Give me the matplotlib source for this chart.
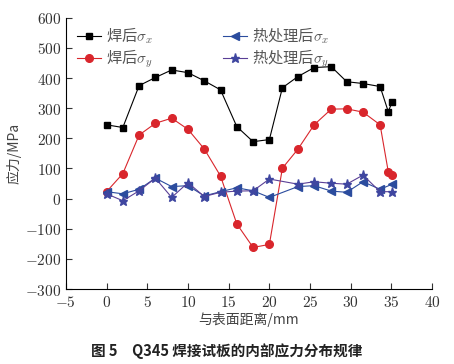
import numpy as np
import matplotlib.pyplot as plt
from matplotlib.ticker import FuncFormatter

plt.rcParams['font.family'] = ['Noto Sans CJK SC', 'DejaVu Sans']
plt.rcParams['mathtext.fontset'] = 'cm'

# 焊后 (as welded)
x_w = [0, 2, 4, 6, 8, 10, 12, 14, 16, 18, 20, 21.6, 23.5, 25.5, 27.6, 29.5, 31.5, 33.6, 34.6, 35.1]
sx_w = [245, 236, 375, 402, 427, 418, 391, 361, 239, 189, 196, 368, 405, 435, 438, 388, 382, 372, 289, 322]
sy_w = [23, 83, 211, 250, 267, 230, 165, 75, -84, -162, -152, 101, 164, 245, 297, 298, 287, 245, 90, 80]

# 热处理后 (after heat treatment)
x_h = [0, 2, 4, 6, 8, 10, 12, 14, 16, 18, 20, 23.5, 25.5, 27.6, 29.5, 31.5, 33.6, 35.1]
sx_h = [23, 16, 31, 68, 40, 43, 9, 23, 36, 26, 4, 40, 43, 25, 21, 56, 31, 48]
sy_h = [16, -7, 26, 68, 4, 53, 7, 21, 25, 26, 65, 48, 56, 51, 48, 78, 23, 23]

fig = plt.figure(figsize=(4.54, 3.64), dpi=100)
ax = fig.add_axes([0.145, 0.206, 0.807, 0.745])

ax.plot(x_w, sx_w, color='black', lw=0.8, marker='s', ms=5, label=r'焊后$\sigma_x$')
ax.plot(x_w, sy_w, color='#d9262c', lw=0.8, marker='o', ms=5.5, label=r'焊后$\sigma_y$')
ax.plot(x_h, sx_h, color='#2b4c9e', lw=0.8, marker='<', ms=5.5, label=r'热处理后$\sigma_x$')
ax.plot(x_h, sy_h, color='#5a3f96', lw=0.8, marker='*', ms=6.5, mfc='#3f46a0', mec='#3f46a0',
        label=r'热处理后$\sigma_y$')

ax.set_xlim(-5, 40)
ax.set_ylim(-300, 600)
ax.set_xticks(np.arange(-5, 41, 5))
ax.set_yticks(np.arange(-300, 601, 100))
cm_fmt = FuncFormatter(lambda v, pos: r'$%d$' % round(v))
ax.xaxis.set_major_formatter(cm_fmt)
ax.yaxis.set_major_formatter(cm_fmt)
ax.spines['top'].set_visible(False)
ax.spines['right'].set_visible(False)
ax.tick_params(direction='in', length=4, width=0.8, labelsize=11, colors='#333333')
ax.set_xlabel('与表面距离/mm', fontsize=10, color='#444444', labelpad=1)
ax.set_ylabel('应力/MPa', fontsize=10, color='#444444', labelpad=2)

leg = ax.legend(ncol=2, loc='upper left', bbox_to_anchor=(0.005, 1.005), frameon=False,
                fontsize=11, handlelength=1.6, handletextpad=0.3, columnspacing=4.6,
                labelspacing=0.1, borderaxespad=0.2)
for t in leg.get_texts():
    t.set_color('#555555')

fig.text(0.5, 0.035, '图 5　Q345 焊接试板的内部应力分布规律', ha='center', va='center',
         fontsize=10.5, fontweight='bold', color='#222222')

fig.savefig('out.png', dpi=100)
